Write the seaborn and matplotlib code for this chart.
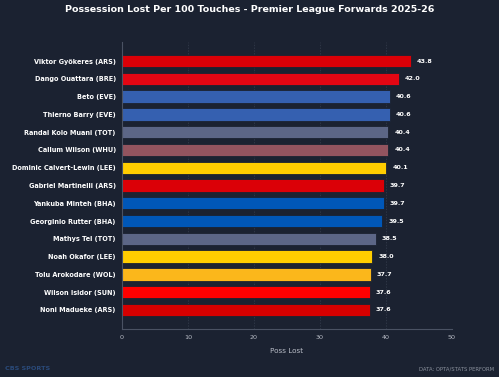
import matplotlib
matplotlib.use("Agg")
import matplotlib.pyplot as plt
import seaborn as sns
import pandas as pd

players = ["Viktor Gyökeres (ARS)", "Dango Ouattara (BRE)", "Beto (EVE)", "Thierno Barry (EVE)",
           "Randal Kolo Muani (TOT)", "Callum Wilson (WHU)", "Dominic Calvert-Lewin (LEE)",
           "Gabriel Martinelli (ARS)", "Yankuba Minteh (BHA)", "Georginio Rutter (BHA)",
           "Mathys Tel (TOT)", "Noah Okafor (LEE)", "Tolu Arokodare (WOL)",
           "Wilson Isidor (SUN)", "Noni Madueke (ARS)"]
values = [43.8, 42.0, 40.6, 40.6, 40.4, 40.4, 40.1, 39.7, 39.7, 39.5, 38.5, 38.0, 37.7, 37.6, 37.6]
colors = ["#db0007", "#e30613", "#3560b0", "#3560b0", "#5c6686", "#93545f", "#ffcd00",
          "#db0007", "#0057b8", "#0057b8", "#5c6686", "#ffcd00", "#fbb71b", "#ff0000", "#d60000"]

BG = "#1b2231"
df = pd.DataFrame({"player": players, "value": values})

sns.set_theme(style="dark")
plt.rcParams['font.family'] = ['DejaVu Sans']

fig = plt.figure(figsize=(4.99, 3.77), dpi=100, facecolor=BG)
ax = fig.add_axes([122/499, 1 - 329/377, (451.3 - 121.7)/499, (329 - 42)/377])
ax.set_facecolor(BG)

sns.barplot(data=df, y="player", x="value", hue="player", palette=colors, legend=False,
            orient="h", width=0.7, ax=ax, edgecolor="#1b2231", linewidth=0.6, saturation=1)

for i, v in enumerate(values):
    ax.text(v + 0.9, i, f"{v:.1f}", va="center", ha="left", color="white",
            fontsize=4.6, fontweight="bold")

ax.set_xlim(0, 50)
ax.set_ylim(14 + 1.08, -1.08)
ax.set_xticks([0, 10, 20, 30, 40, 50])
ax.tick_params(axis="x", colors="#b8bcc6", labelsize=4.6, length=2, width=0.6, pad=2)
ax.tick_params(axis="y", colors="white", labelsize=4.7, length=0, pad=4.5)
for lbl in ax.get_yticklabels():
    lbl.set_fontweight("bold")
ax.set_ylabel("")
ax.set_xlabel("Poss Lost", color="#b8bcc6", fontsize=5.2)
ax.xaxis.set_label_coords(0.5, -0.065)
ax.grid(axis="x", color="#363e4e", linestyle=(0, (2, 2)), linewidth=0.5)
ax.grid(axis="y", visible=False)
ax.set_axisbelow(True)
for s in ["top", "right"]:
    ax.spines[s].set_visible(False)
for s in ["left", "bottom"]:
    ax.spines[s].set_visible(True)
    ax.spines[s].set_color("#4a5263")
    ax.spines[s].set_linewidth(0.8)

fig.text(0.5, 1 - 9/377, "Possession Lost Per 100 Touches - Premier League Forwards 2025-26",
         ha="center", va="center", color="white", fontsize=6.8, fontweight="bold")
fig.text(5/499, 1 - 369/377, "CBS SPORTS", ha="left", va="center", color="#2a4a7a",
         fontsize=4.6, fontweight="bold")
fig.text(494/499, 1 - 369/377, "DATA: OPTA/STATS PERFORM", ha="right", va="center",
         color="#8a909c", fontsize=3.8)

fig.savefig("out.png", dpi=100, facecolor=BG)
